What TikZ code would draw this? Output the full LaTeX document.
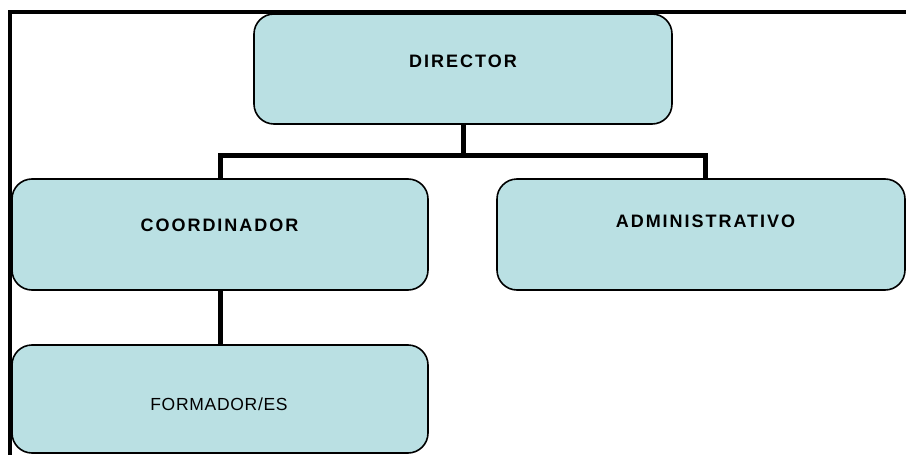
\documentclass[tikz,border=0pt]{standalone}
\usepackage{fontspec}
\setmainfont{Liberation Sans}
\usetikzlibrary{calc}
\definecolor{boxfill}{RGB}{186,224,227}
\tikzset{
  orgbox/.style={draw=black, line width=1.6pt, fill=boxfill, rounded corners=20pt, inner sep=0pt},
  boldlbl/.style={font=\fontsize{18}{21}\selectfont\bfseries\addfontfeature{LetterSpace=11}, inner sep=0pt, text=black},
  reglbl/.style={font=\fontsize{17.5}{21}\selectfont\addfontfeature{LetterSpace=4}, inner sep=0pt, text=black},
  link/.style={draw=black, line width=5pt, line join=miter},
  frameline/.style={draw=black, line width=4pt}
}
\begin{document}
\begin{tikzpicture}[x=1pt, y=-1pt]
\useasboundingbox (0,0) rectangle (906,455);
% frame
\coordinate (ftl) at (10.3,12);
\coordinate (ftr) at (910,12);
\coordinate (fbl) at (10.3,460);
\draw[frameline] (ftr) -- (ftl) -- (fbl);
% boxes
\node[orgbox, minimum width=418pt, minimum height=110pt] (dir) at (463,69) {};
\node[orgbox, minimum width=416pt, minimum height=111pt] (coord) at (220,234.5) {};
\node[orgbox, minimum width=408pt, minimum height=111pt] (admin) at (701,234.5) {};
\node[orgbox, minimum width=416pt, minimum height=108pt] (form) at (220,399) {};
% labels
\node[boldlbl] (tdir) at (463,61) {DIRECTOR};
\node[boldlbl] (tcoord) at (219.5,225) {COORDINADOR};
\node[boldlbl] (tadmin) at (705.5,221) {ADMINISTRATIVO};
\node[reglbl] (tform) at (219,404) {FORMADOR/ES};
% connectors
\coordinate (bus) at ($(dir.south)+(0,31)$);
\coordinate (adtop) at ($(admin.north)+(4.5,0)$);
\draw[link] (dir.south) -- (bus) -| (coord.north);
\draw[link] (bus) -| (adtop);
\draw[link] (coord.south) -- (form.north);
\end{tikzpicture}
\end{document}
